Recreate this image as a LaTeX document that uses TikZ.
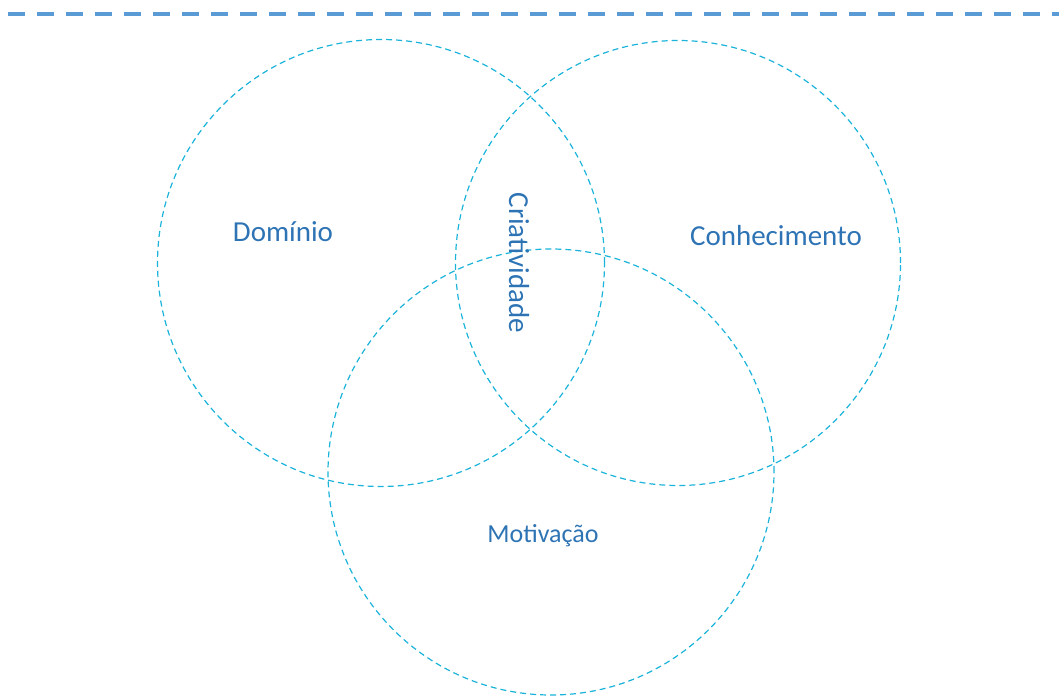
\documentclass[tikz,border=0pt]{standalone}
\usepackage{fontspec}
\setmainfont{Carlito}
\usetikzlibrary{positioning}
\definecolor{cRing}{HTML}{1BB3DA}
\definecolor{cTxt}{HTML}{2E74B5}
\definecolor{cRule}{HTML}{5B9BD5}
\tikzset{
  ring/.style={draw=cRing, line width=1.2pt, dash pattern=on 6pt off 4pt, circle, minimum size=#1, inner sep=0pt},
  lbl/.style={text=cTxt, inner sep=0pt, font=\fontsize{29}{34}\selectfont},
  toprule/.style={draw=cRule, line width=4pt, dash pattern=on 17pt off 12pt},
}
\begin{document}
\begin{tikzpicture}[x=1pt,y=-1pt]
\useasboundingbox (0,0) rectangle (1059,698);
% ================= header rule =================
\coordinate (rl) at (8,14); \coordinate (rr) at (1059,14);
\draw[toprule] (rl) -- (rr);
% ================= three sets =================
\node[ring=447pt] (dom) at (381,263) {};
\node[ring=445pt] (con) at (678,263) {};
\node[ring=446pt] (mot) at (551,472) {};
% ================= labels =================
\node[lbl] (tdom) at (283,232) {Domínio};
\node[lbl] (tcon) at (776,236) {Conhecimento};
\node[lbl, font=\fontsize{26}{31}\selectfont] (tmot) at (543,536) {Motivação};
\node[lbl, rotate=-90] (tcri) at (519,263) {Criatividade};
\end{tikzpicture}
\end{document}
